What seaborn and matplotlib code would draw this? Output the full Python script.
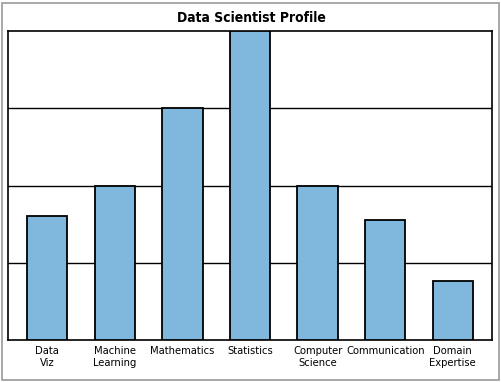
import matplotlib
matplotlib.use("Agg")
import matplotlib.pyplot as plt
import seaborn as sns
import pandas as pd
from matplotlib.patches import Rectangle

skills = ["Data\nViz", "Machine\nLearning", "Mathematics", "Statistics",
          "Computer\nScience", "Communication", "Domain\nExpertise"]
scores = [1.6, 2.0, 3.0, 4.0, 2.0, 1.55, 0.76]

df = pd.DataFrame({"skill": skills, "score": scores})

sns.set_style("white")
plt.rcParams["font.family"] = ["DejaVu Sans"]
plt.rcParams["font.stretch"] = "condensed"
plt.rcParams["text.color"] = "black"
plt.rcParams["xtick.color"] = "black"

fig = plt.figure(figsize=(5.02, 3.82), dpi=100)
ax = fig.add_axes([8 / 502, 42 / 382, 484 / 502, 309 / 382])

sns.barplot(data=df, x="skill", y="score", color="#80b7dd", saturation=1,
            edgecolor="black", linewidth=1.3, width=0.6, ax=ax, zorder=3)

ax.set_ylim(0, 4)
ax.set_xlim(-0.58, 6.58)
ax.set_yticks([1, 2, 3])
ax.yaxis.grid(True, color="black", linewidth=1.0, zorder=0)
ax.set_axisbelow(True)
ax.set_yticklabels([])
ax.tick_params(axis="y", length=0)
ax.tick_params(axis="x", length=0, labelsize=8, pad=4, labelcolor="black")
for lbl in ax.get_xticklabels():
    lbl.set_fontstretch("condensed")
    lbl.set_linespacing(1.3)
ax.set_xlabel("")
ax.set_ylabel("")
for s in ax.spines.values():
    s.set_color("black")
    s.set_linewidth(1.2)

fig.text(0.5, 1 - 18 / 382, "Data Scientist Profile", ha="center", va="center",
         fontsize=10, fontweight="bold", fontstretch="condensed", color="black")

# thin grey frame round the whole picture
fig.patches.append(Rectangle((2 / 502, 2 / 382), 497 / 502, 377 / 382,
                             transform=fig.transFigure, fill=False,
                             edgecolor="#9a9a9a", linewidth=1.2))

fig.savefig("out.png", dpi=100)
